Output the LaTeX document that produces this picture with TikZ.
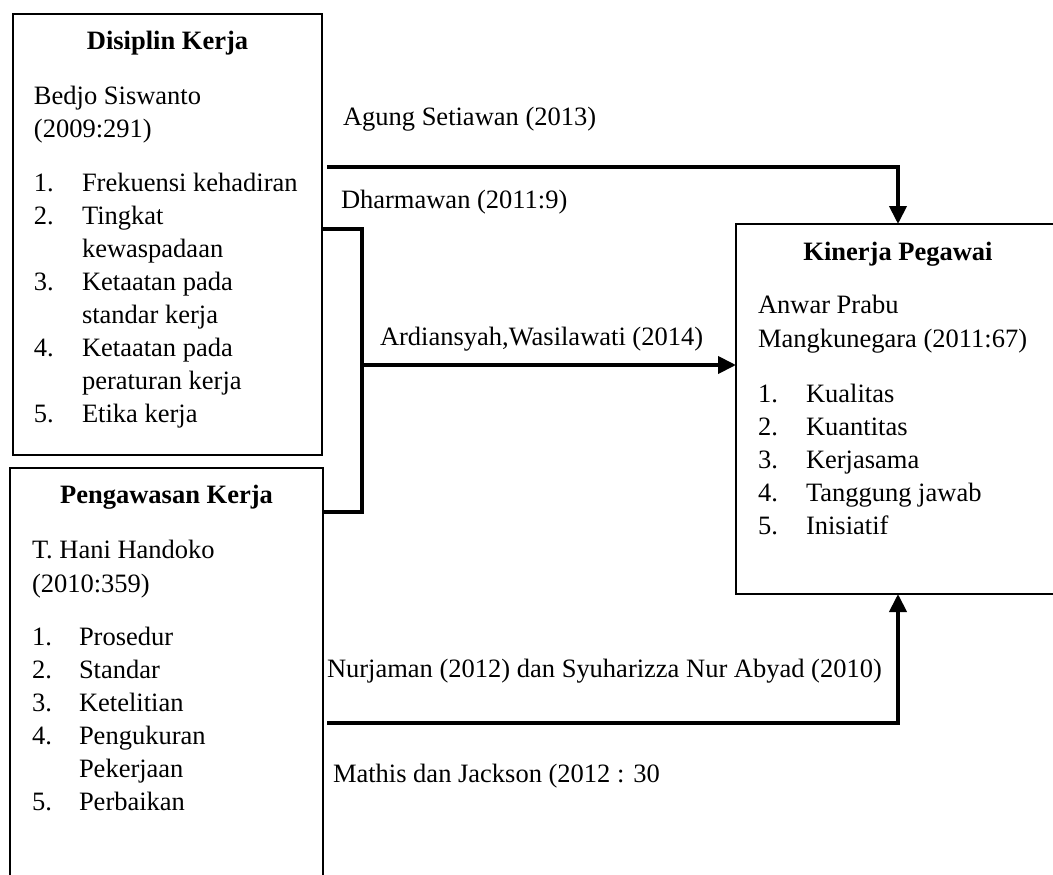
\documentclass[tikz,border=0pt]{standalone}
\usepackage{fontspec}
\setmainfont{Liberation Serif}
\usetikzlibrary{arrows.meta}
\begin{document}
\begin{tikzpicture}[x=1pt,y=-1pt,
  box/.style={draw, line width=2pt, inner sep=0pt, outer sep=0pt, anchor=north west},
  txt/.style={anchor=base west, inner sep=0pt, outer sep=0pt},
  hdr/.style={anchor=base, inner sep=0pt, outer sep=0pt, font=\fontsize{26.5}{33}\selectfont\bfseries},
  conn/.style={line width=4pt},
  arr/.style={line width=4pt, -{Triangle[length=18pt,width=17pt]}},
  every node/.append style={font=\fontsize{26.5}{33}\selectfont}
]
\useasboundingbox (0,0) rectangle (1053,875);
\clip (0,0) rectangle (1053,875);

% boxes
\node[box, minimum width=309pt, minimum height=441pt] (d1) at (13,14) {};
\node[box, minimum width=313pt, minimum height=440pt] (d2) at (10,468) {};
\node[box, minimum width=324pt, minimum height=370pt] (k) at (736,224) {};

% Disiplin Kerja
\node[hdr] (h1) at (167.5,50) {Disiplin Kerja};
\node[txt] (d1a) at (34,104) {Bedjo Siswanto};
\node[txt] (d1b) at (34,137) {(2009:291)};
\node[txt] (d1n1) at (34,191) {1.};
\node[txt] (d1i1) at (82,191) {Frekuensi kehadiran};
\node[txt] (d1n2) at (34,224) {2.};
\node[txt] (d1i2) at (82,224) {Tingkat};
\node[txt] (d1i2b) at (82,257) {kewaspadaan};
\node[txt] (d1n3) at (34,290) {3.};
\node[txt] (d1i3) at (82,290) {Ketaatan pada};
\node[txt] (d1i3b) at (82,323) {standar kerja};
\node[txt] (d1n4) at (34,356) {4.};
\node[txt] (d1i4) at (82,356) {Ketaatan pada};
\node[txt] (d1i4b) at (82,389) {peraturan kerja};
\node[txt] (d1n5) at (34,422) {5.};
\node[txt] (d1i5) at (82,422) {Etika kerja};

% Pengawasan Kerja
\node[hdr] (h2) at (166.5,503) {Pengawasan Kerja};
\node[txt] (d2a) at (32,558) {T. Hani Handoko};
\node[txt] (d2b) at (32,592) {(2010:359)};
\node[txt] (d2n1) at (32,645) {1.};
\node[txt] (d2i1) at (79,645) {Prosedur};
\node[txt] (d2n2) at (32,678) {2.};
\node[txt] (d2i2) at (79,678) {Standar};
\node[txt] (d2n3) at (32,711) {3.};
\node[txt] (d2i3) at (79,711) {Ketelitian};
\node[txt] (d2n4) at (32,744) {4.};
\node[txt] (d2i4) at (79,744) {Pengukuran};
\node[txt] (d2i4b) at (79,777) {Pekerjaan};
\node[txt] (d2n5) at (32,810) {5.};
\node[txt] (d2i5) at (79,810) {Perbaikan};

% Kinerja Pegawai
\node[hdr] (h3) at (898,260) {Kinerja Pegawai};
\node[txt] (ka) at (758,313) {Anwar Prabu};
\node[txt] (kb) at (758,347) {Mangkunegara (2011:67)};
\node[txt] (kn1) at (758,402) {1.};
\node[txt] (ki1) at (806,402) {Kualitas};
\node[txt] (kn2) at (758,435) {2.};
\node[txt] (ki2) at (806,435) {Kuantitas};
\node[txt] (kn3) at (758,468) {3.};
\node[txt] (ki3) at (806,468) {Kerjasama};
\node[txt] (kn4) at (758,501) {4.};
\node[txt] (ki4) at (806,501) {Tanggung jawab};
\node[txt] (kn5) at (758,534) {5.};
\node[txt] (ki5) at (806,534) {Inisiatif};

% labels
\node[txt] (l1) at (343,125) {Agung Setiawan (2013)};
\node[txt] (l2) at (341,208) {Dharmawan (2011:9)};
\node[txt] (l3) at (380,345) {Ardiansyah,Wasilawati (2014)};
\node[txt] (l4) at (327,677) {Nurjaman (2012) dan Syuharizza Nur Abyad (2010)};
\node[txt] (l5) at (333,782) {Mathis dan Jackson (2012 : 30};

% connectors
\coordinate (a1) at (327,167);
\coordinate (b1) at (322,229);
\coordinate (b2) at (323,512);
\coordinate (bm) at (362,365);
\coordinate (c1) at (327,723);

\draw[arr] (a1) -| (k.north);
\draw[conn] (b1) -| (bm);
\draw[conn] (b2) -| (bm);
\draw[arr] (bm) -- (k.west |- bm);
\draw[arr] (c1) -| (k.south);
\end{tikzpicture}
\end{document}
